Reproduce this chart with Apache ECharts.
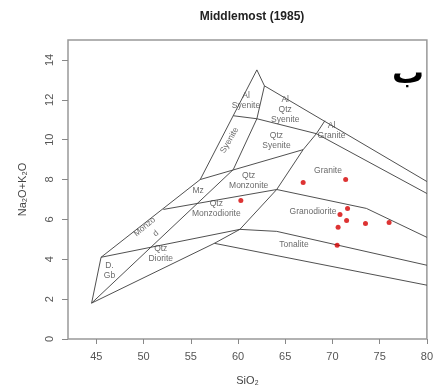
<!DOCTYPE html>
<html><head><meta charset="utf-8">
<script src="https://cdn.jsdelivr.net/npm/echarts@6/dist/echarts.min.js"></script>
<style>html,body{margin:0;padding:0;background:#fff}#chart{width:436px;height:392px}</style>
</head><body><div id="chart"></div>
<script>
// Sample compositions (wt%)
const sampleSiO2   = [66.9, 71.4, 60.3, 71.6, 70.8, 71.5, 70.6, 73.5, 76.0, 70.5];
const sampleAlkali = [7.85, 8.0, 6.95, 6.55, 6.25, 5.95, 5.6, 5.8, 5.85, 4.7];

// Axis ticks
const xTicks = [45, 50, 55, 60, 65, 70, 75, 80];
const yTicks = [0, 2, 4, 6, 8, 10, 12, 14];

// Field boundaries, as [SiO2, Na2O+K2O] vertices
const outerLeft   = [[44.5,1.8],[45.5,4.1],[56,8],[62,13.5]];
const outerTop    = [[62,13.5],[62.8,12.7],[80,7.9]];
const outerBottom = [[44.5,1.8],[57.5,4.8],[80,2.7]];
const row1 = [[45.5,4.1],[60.2,5.5],[64.1,5.4],[80,3.7]];
const row2 = [[52.1,6.5],[64.1,7.5],[73.6,6.55],[80,5.1]];
const row3 = [[56,8],[66.9,9.5]];
const row4 = [[59.5,11.2],[62,11.05],[68.3,10.3],[80,7.3]];
const diagonal1 = [[44.5,1.8],[59.5,8.5],[62,11.05],[62.8,12.7]];
const diagonal2 = [[57.5,4.8],[60.2,5.5],[64.1,7.5],[66.9,9.5],[68.3,10.3],[69.2,10.95]];
const boundaries = [outerLeft, outerTop, outerBottom, row1, row2, row3, row4, diagonal1, diagonal2];

// Field names and where they are written
const fieldNames = ['Al\nSyenite','Al\nQtz\nSyenite','Al\nGranite','Syenite','Qtz\nSyenite','Mz',
  'Qtz\nMonzonite','Qtz\nMonzodiorite','Monzo','d','Qtz\nDiorite','D.\nGb','Granite','Granodiorite','Tonalite'];
const fieldAt = [[60.85,11.97],[65.0,11.5],[69.9,10.45],[59.1,9.97],[64.07,9.94],[55.77,7.43],
  [61.13,7.94],[57.71,6.52],[50.12,5.63],[51.3,5.3],[51.82,4.28],[46.39,3.44],[69.53,8.47],[67.94,6.38],[65.93,4.72]];
const fieldTilt = [0,0,0,60,0,0,0,0,40,40,0,0,0,0,0];

const chart = echarts.init(document.getElementById('chart'), null, {renderer: 'canvas'});
const font = '"Liberation Sans", Arial, sans-serif';

const lineSeries = boundaries.map(pts => ({
  type: 'line', data: pts, symbol: 'none', silent: true,
  lineStyle: {color: '#3c3c3c', width: 0.9}, z: 2
}));

chart.setOption({
  animation: false,
  backgroundColor: '#fff',
  title: {
    text: 'Middlemost (1985)', left: 247, top: 6, textAlign: 'center',
    textStyle: {fontFamily: font, fontSize: 12, fontWeight: 'bold', color: '#222'}
  },
  grid: {left: 68, right: 9, top: 40, bottom: 53, show: true, borderColor: '#999', borderWidth: 1.5},
  xAxis: {
    type: 'value', min: 42, max: 80,
    name: 'SiO₂', nameLocation: 'middle', nameGap: 36,
    nameTextStyle: {fontFamily: font, fontSize: 11, color: '#444'},
    axisLine: {show: false}, splitLine: {show: false},
    axisTick: {show: true, length: 5, lineStyle: {color: '#888'}, customValues: xTicks},
    axisLabel: {fontFamily: font, fontSize: 11, color: '#555', margin: 12, customValues: xTicks}
  },
  yAxis: {
    type: 'value', min: 0, max: 15,
    name: 'Na₂O+K₂O', nameLocation: 'middle', nameGap: 40, nameRotate: 90,
    nameTextStyle: {fontFamily: font, fontSize: 11, color: '#444'},
    axisLine: {show: false}, splitLine: {show: false},
    axisTick: {show: true, length: 6, lineStyle: {color: '#888'}, customValues: yTicks},
    axisLabel: {fontFamily: font, fontSize: 11, color: '#555', rotate: 90, margin: 13, customValues: yTicks}
  },
  graphic: [{
    type: 'text', left: 392, top: 59,
    style: {text: 'ب', font: 'bold 32px "DejaVu Sans"', fill: '#000'}
  }],
  series: [
    ...lineSeries,
    {
      type: 'scatter', silent: true, symbolSize: 0, z: 3,
      data: fieldNames.map((n, i) => ({
        value: fieldAt[i], name: n,
        label: {rotate: fieldTilt[i]}
      })),
      label: {
        show: true, position: 'inside', formatter: p => p.name,
        fontFamily: font, fontSize: 8.5, lineHeight: 10, color: '#444', align: 'center'
      }
    },
    {
      type: 'scatter', z: 4,
      data: sampleSiO2.map((x, i) => [x, sampleAlkali[i]]),
      symbol: 'circle', symbolSize: 5,
      itemStyle: {color: '#d40000'}
    }
  ]
});
</script>
</body></html>
